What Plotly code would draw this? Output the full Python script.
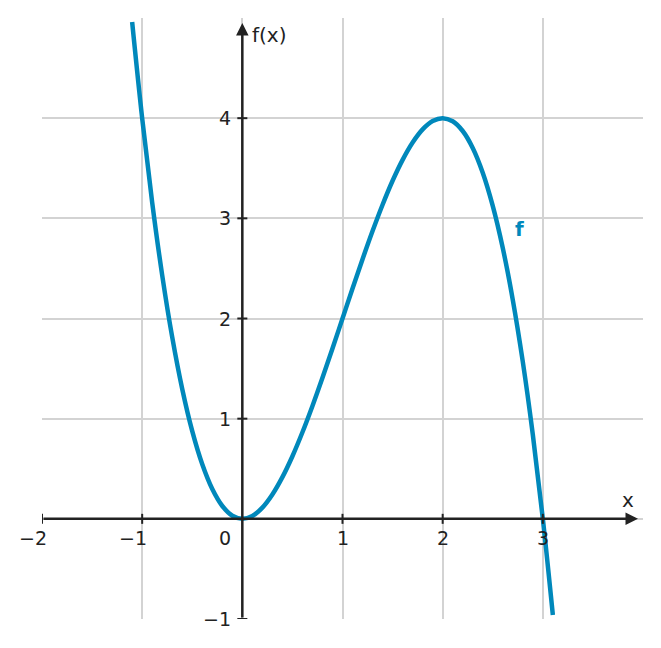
import plotly.graph_objects as go

xs = [-1.1,-1.0,-0.9,-0.8,-0.7,-0.6,-0.5,-0.4,-0.3,-0.2,-0.1,0.0,0.1,0.2,0.3,0.4,0.5,0.6,0.7,0.8,0.9,1.0,
      1.1,1.2,1.3,1.4,1.5,1.6,1.7,1.8,1.9,2.0,2.1,2.2,2.3,2.4,2.5,2.6,2.7,2.8,2.9,3.0,3.1]
ys = [4.961,4.0,3.159,2.432,1.813,1.296,0.875,0.544,0.297,0.128,0.031,0.0,0.029,0.112,0.243,0.416,0.625,
      0.864,1.127,1.408,1.701,2.0,2.299,2.592,2.873,3.136,3.375,3.584,3.757,3.888,3.971,4.0,3.969,3.872,
      3.703,3.456,3.125,2.704,2.187,1.568,0.841,0.0,-0.961]
xticks = [-2,-1,1,2,3]
yticks = [-1,1,2,3,4]
C = "#0088bb"
AX = "#222222"
F = "DejaVu Sans"

fig = go.Figure(go.Scatter(x=xs, y=ys, mode="lines", line=dict(color=C, width=4.5, shape="spline"),
                           hoverinfo="skip", showlegend=False))
ann = []
shapes = []
ann.append(dict(x=3.95, y=0, ax=-2, ay=0, xref="x", yref="y", axref="x", ayref="y", showarrow=True,
                arrowhead=2, arrowsize=1, arrowwidth=2.5, arrowcolor=AX, text=""))
ann.append(dict(x=0, y=4.95, ax=0, ay=-1, xref="x", yref="y", axref="x", ayref="y", showarrow=True,
                arrowhead=2, arrowsize=1, arrowwidth=2.5, arrowcolor=AX, text=""))
for t in xticks:
    shapes.append(dict(type="line", x0=t, x1=t, y0=-0.05, y1=0.05, line=dict(color=AX, width=2)))
    ann.append(dict(x=t, y=-0.19, text="\u2212%d" % -t if t < 0 else str(t), showarrow=False,
                    xshift=-9 if t < 0 else 0, font=dict(family=F, size=19, color=AX)))
for t in yticks:
    shapes.append(dict(type="line", y0=t, y1=t, x0=-0.05, x1=0.05, line=dict(color=AX, width=2)))
    ann.append(dict(x=-0.17, y=t, text="\u2212%d" % -t if t < 0 else str(t), showarrow=False,
                    xanchor="right", xshift=8, font=dict(family=F, size=19, color=AX)))
ann.append(dict(x=-0.17, y=-0.19, text="0", showarrow=False, font=dict(family=F, size=19, color=AX)))
ann.append(dict(x=0.08, y=4.83, text="f(x)", showarrow=False, xanchor="left", font=dict(family=F, size=20, color=AX)))
ann.append(dict(x=3.85, y=0.19, text="x", showarrow=False, font=dict(family=F, size=20, color=AX)))
ann.append(dict(x=2.77, y=2.89, text="<b>f</b>", showarrow=False, font=dict(family=F, size=20, color=C)))

grid = dict(showgrid=True, gridcolor="#d3d3d3", gridwidth=1.5, zeroline=False, showticklabels=False,
            ticks="", dtick=1, tick0=0, fixedrange=True)
fig.update_layout(width=661, height=648, margin=dict(l=34, r=26, t=10, b=37),
                  plot_bgcolor="white", paper_bgcolor="white",
                  xaxis=dict(range=[-2, 4], **grid), yaxis=dict(range=[-1, 5], **grid),
                  annotations=ann, shapes=shapes)
fig.write_html("out.html")
